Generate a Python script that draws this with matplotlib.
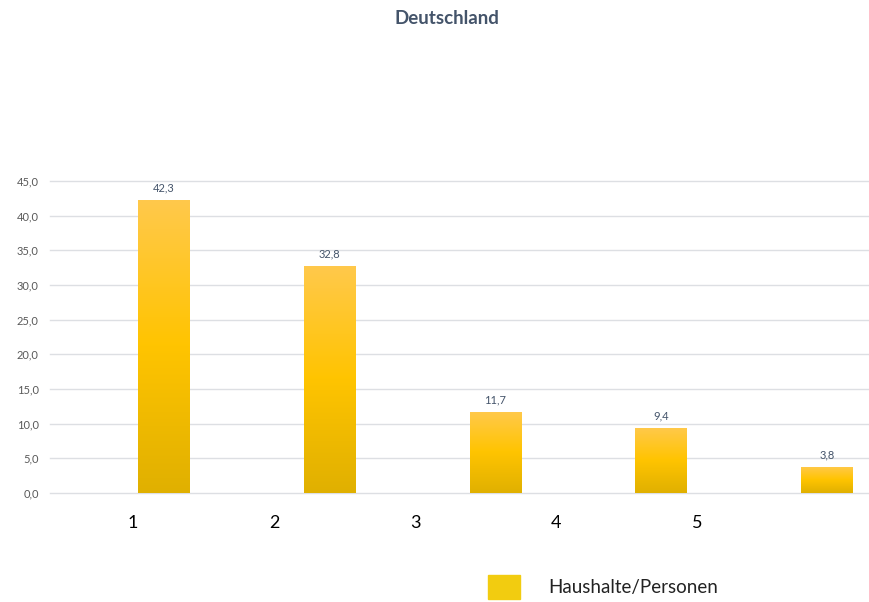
import numpy as np
import matplotlib.pyplot as plt
from matplotlib.colors import LinearSegmentedColormap
from matplotlib.patches import Rectangle

# Haushaltsgrößen in Deutschland (Anteil in %)
categories = ["1", "2", "3", "4", "5"]
values = [42.3, 32.8, 11.7, 9.4, 3.8]
yticks = [0, 5, 10, 15, 20, 25, 30, 35, 40, 45]
title = "Deutschland"
legend_label = "Haushalte/Personen"

plt.rcParams['font.family'] = ['Lato', 'DejaVu Sans']

fig = plt.figure(figsize=(8.69, 6.02), dpi=100)
W, H = 869, 602
ax = fig.add_axes([50 / W, 1 - 493 / H, (869 - 50) / W, (493 - 181) / H])

x = np.arange(len(values))
bars = ax.bar(x, values, width=0.31, color='none', zorder=3)

# vertical gradient in each bar
grad = LinearSegmentedColormap.from_list('g', ['#E0B000', '#FFC400', '#FFC94C'])
g = np.linspace(0, 1, 256).reshape(-1, 1)
for b in bars:
    x0, w, h = b.get_x(), b.get_width(), b.get_height()
    im = ax.imshow(g, cmap=grad, origin='lower', aspect='auto',
                   extent=[x0, x0 + w, 0, h], zorder=3)
    im.set_clip_path(b)

for xi, v in zip(x, values):
    ax.text(xi, v + 0.9, f"{v:.1f}".replace('.', ','), ha='center', va='bottom',
            fontsize=8, color='#44546A')

ax.set_xlim((50 - 164) / 165.7, (869 - 164) / 165.7)
ax.set_ylim(0, 45)
ax.set_yticks(yticks)
ax.set_yticklabels([f"{t:.1f}".replace('.', ',') for t in yticks],
                   fontsize=8, color='#595959')
ax.tick_params(axis='y', length=0, pad=8)
ax.set_xticks([])
ax.grid(axis='y', color='#DDDFE3', linewidth=1, zorder=0)
for gl in ax.get_ygridlines():
    gl.set_clip_on(False)
for s in ax.spines.values():
    s.set_visible(False)

# category labels below the plot
for i, c in enumerate(categories):
    fig.text((133 + 141 * i) / W, 1 - 523 / H, c, ha='center', va='center',
             fontsize=13, color='#000000')

fig.text(447 / W, 1 - 18 / H, title, ha='center', va='center',
         fontsize=13.5, fontweight='bold', color='#44546A')

# legend
fig.patches.append(Rectangle((488 / W, 1 - 599 / H), 32 / W, 24 / H,
                             transform=fig.transFigure, color='#F2CC10'))
fig.text(548 / W, 1 - 588 / H, legend_label, ha='left', va='center',
         fontsize=13.5, color='#222222')

fig.savefig('out.png', dpi=100)
